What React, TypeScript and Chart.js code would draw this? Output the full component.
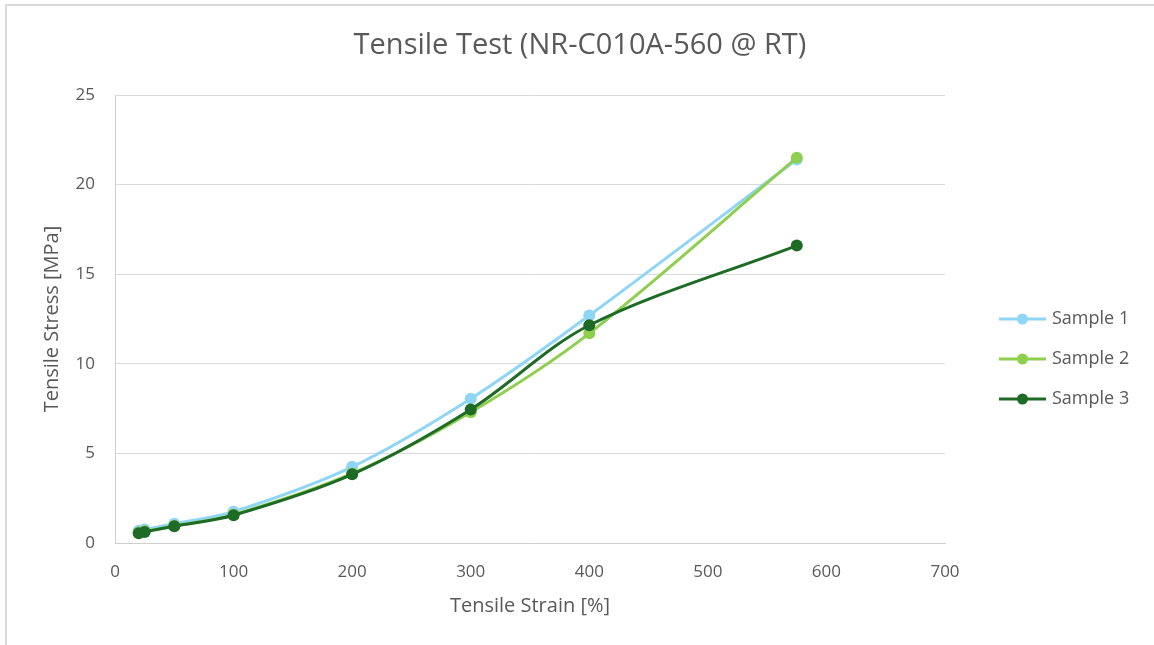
import React, { useEffect, useRef } from 'react';
import { Chart, registerables } from 'chart.js';

Chart.register(...registerables);

// ---- data ----
const strainPct = [20, 25, 50, 100, 200, 300, 400, 575];
const sample1 = [0.68, 0.75, 1.08, 1.75, 4.25, 8.05, 12.7, 21.4];
const sample2 = [0.58, 0.65, 0.95, 1.58, 3.88, 7.3, 11.7, 21.5];
const sample3 = [0.55, 0.62, 0.93, 1.55, 3.83, 7.45, 12.15, 16.6];
const seriesNames = ['Sample 1', 'Sample 2', 'Sample 3'];
const xTickValues = [0, 100, 200, 300, 400, 500, 600, 700];
const yTickValues = [0, 5, 10, 15, 20, 25];
const chartTitle = 'Tensile Test (NR-C010A-560 @ RT)';
const xAxisTitle = 'Tensile Strain [%]';
const yAxisTitle = 'Tensile Stress [MPa]';

// ---- styles ----
const FONT = '"Open Sans", "Liberation Sans", sans-serif';
const TEXT = '#595959';
const GRID = '#d9d9d9';
const AXIS = '#cfcfcf';
const colors = ['#8fd6f6', '#8fcf4f', '#1e6b26'];

const titlePlugin = {
  id: 'centeredTitle',
  afterDraw(chart: any) {
    const ctx = chart.ctx;
    ctx.save();
    ctx.font = `29px ${FONT}`;
    ctx.fillStyle = TEXT;
    ctx.textAlign = 'center';
    ctx.textBaseline = 'middle';
    ctx.fillText(chartTitle, 580, 46);
    ctx.restore();
  },
};

const legendPlugin = {
  id: 'lineLegend',
  afterDraw(chart: any) {
    const ctx = chart.ctx;
    ctx.save();
    chart.data.datasets.forEach((ds: any, i: number) => {
      const y = 319 + i * 40;
      ctx.strokeStyle = ds.borderColor;
      ctx.lineWidth = 3;
      ctx.beginPath();
      ctx.moveTo(999, y);
      ctx.lineTo(1046, y);
      ctx.stroke();
      ctx.fillStyle = ds.backgroundColor;
      ctx.beginPath();
      ctx.arc(1022.5, y, 5.5, 0, Math.PI * 2);
      ctx.fill();
      ctx.fillStyle = TEXT;
      ctx.font = `18px ${FONT}`;
      ctx.textAlign = 'left';
      ctx.textBaseline = 'middle';
      ctx.fillText(ds.label, 1052, y);
    });
    ctx.restore();
  },
};

export default function App() {
  const ref = useRef<HTMLCanvasElement | null>(null);

  useEffect(() => {
    if (!ref.current) return;
    const seriesValues = [sample1, sample2, sample3];
    const datasets = seriesValues.map((vals, i) => ({
      label: seriesNames[i],
      data: strainPct.map((x, j) => ({ x, y: vals[j] })),
      borderColor: colors[i],
      backgroundColor: colors[i],
      borderWidth: 3,
      pointRadius: 6,
      pointBorderWidth: 0,
      pointHoverRadius: 6,
      tension: 0.33,
      showLine: true,
      order: 3 - i,
    }));

    const chart = new Chart(ref.current, {
      type: 'line',
      data: { datasets },
      plugins: [titlePlugin, legendPlugin],
      options: {
        animation: false,
        responsive: false,
        maintainAspectRatio: false,
        layout: { padding: { left: 0, right: 209, top: 95, bottom: 0 } },
        plugins: {
          legend: { display: false },
          title: { display: false },
          tooltip: { enabled: false },
        },
        scales: {
          x: {
            type: 'linear',
            min: 0,
            max: 700,
            afterBuildTicks: (scale: any) => {
              scale.ticks = xTickValues.map((v) => ({ value: v }));
            },
            afterFit: (scale: any) => {
              scale.height = 102;
            },
            grid: { drawOnChartArea: false, drawTicks: false },
            border: { display: true, color: AXIS, width: 1 },
            ticks: {
              color: TEXT,
              font: { family: FONT, size: 17 },
              padding: 19,
              maxRotation: 0,
            },
            title: {
              display: true,
              text: xAxisTitle,
              color: TEXT,
              font: { family: FONT, size: 20 },
              padding: { top: 0, bottom: 27 },
            },
          },
          y: {
            type: 'linear',
            min: 0,
            max: 25,
            afterBuildTicks: (scale: any) => {
              scale.ticks = yTickValues.map((v) => ({ value: v }));
            },
            afterFit: (scale: any) => {
              scale.width = 115;
            },
            grid: { color: GRID, lineWidth: 1, drawTicks: false },
            border: { display: true, color: AXIS, width: 1 },
            ticks: {
              color: TEXT,
              font: { family: FONT, size: 17 },
              padding: 20,
            },
            title: {
              display: true,
              text: yAxisTitle,
              color: TEXT,
              font: { family: FONT, size: 20 },
              padding: { top: 40, bottom: 0 },
            },
          },
        },
      },
    });
    return () => chart.destroy();
  }, []);

  return (
    <div style={{ position: 'fixed', left: 0, top: 0, width: 1154, height: 645, background: '#ffffff' }}>
      <div
        style={{
          position: 'absolute',
          left: 5,
          top: 4,
          right: 0,
          bottom: 0,
          borderTop: '2px solid #d9d9d9',
          borderLeft: '2px solid #d9d9d9',
        }}
      />
      <canvas ref={ref} width={1154} height={645} style={{ position: 'absolute', left: 0, top: 0, width: 1154, height: 645 }} />
    </div>
  );
}
